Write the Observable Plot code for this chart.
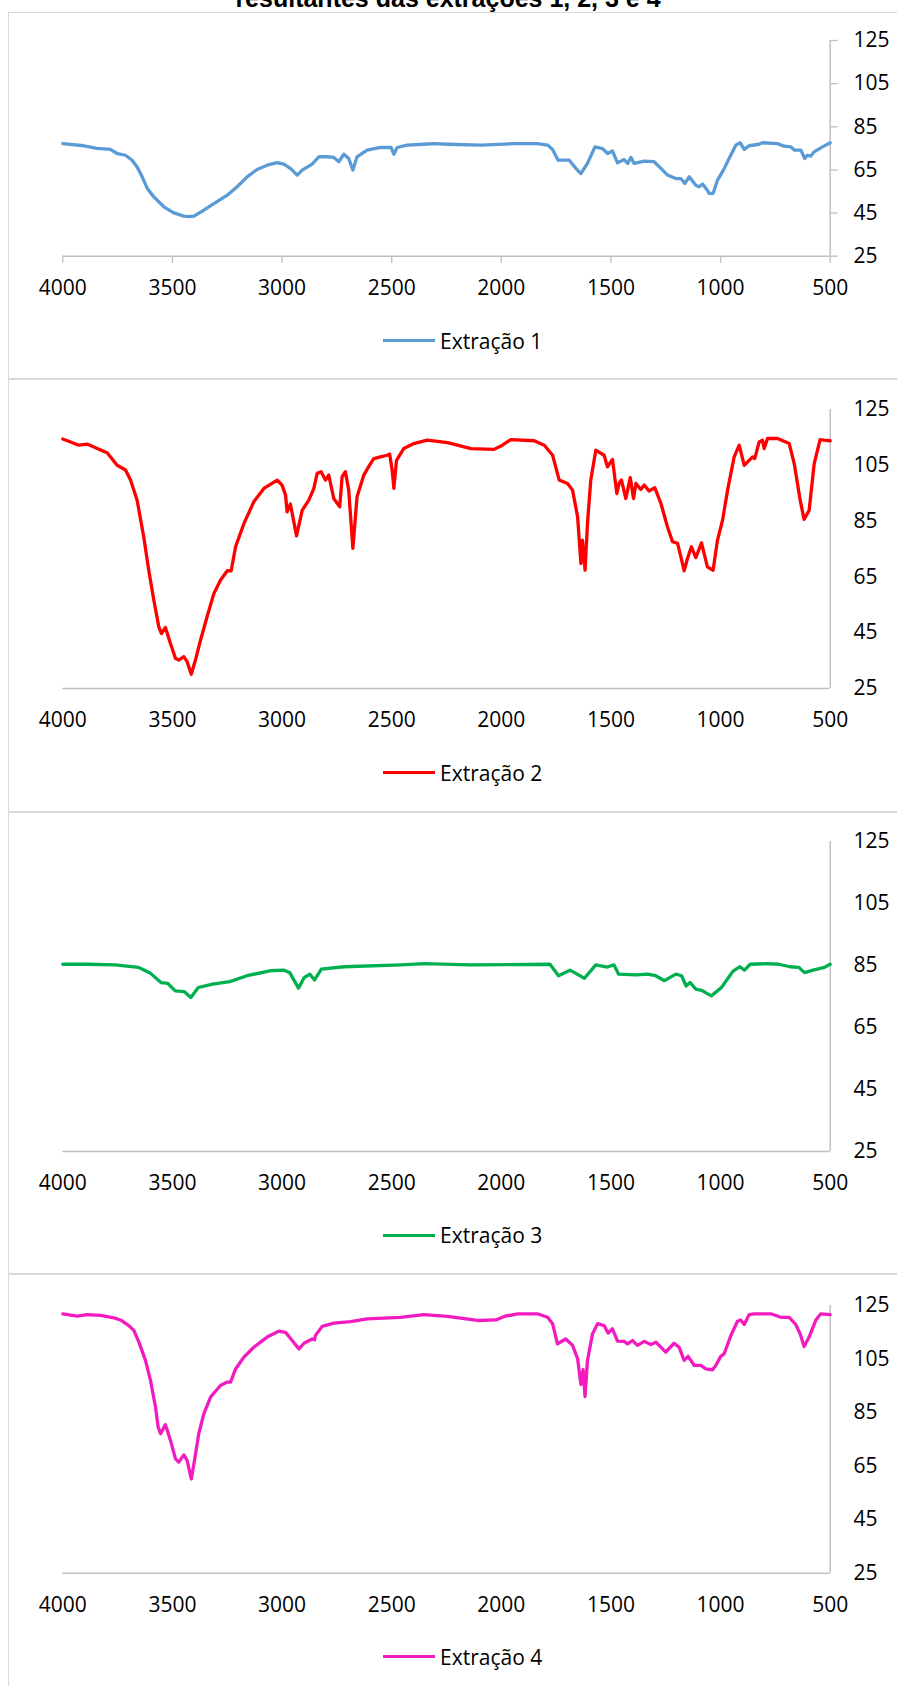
<!DOCTYPE html>
<html>
<head>
<meta charset="utf-8">
<script src="https://cdn.jsdelivr.net/npm/d3@7"></script>
<script src="https://cdn.jsdelivr.net/npm/@observablehq/plot@0.6"></script>
<style>
  body { margin: 0; background: #fff; }
  #page { position: relative; width: 897px; height: 1686px; overflow: hidden; background: #fff; font-family: "Open Sans", sans-serif; }
  .frame { position: absolute; left: 8px; width: 900px; border: 1.5px solid #d9d9d9; box-sizing: border-box; }
  .title { position: absolute; left: 0; width: 896px; top: -14px; text-align: center; font-family: "Liberation Sans", Arial, sans-serif; font-weight: bold; font-size: 25px; line-height: 25px; color: #000; white-space: nowrap; }
  .plot { position: absolute; left: 0; }
  .legend { position: absolute; left: 383px; height: 30px; display: flex; align-items: center; font-size: 21px; color: #000; white-space: nowrap; }
  .legend .sw { width: 52px; height: 3px; margin-right: 5px; }
</style>
</head>
<body>
<div id="page"></div>
<script>
// ---------- data ----------
const titleText = "resultantes das extrações 1, 2, 3 e 4";
const seriesNames = ["Extração 1", "Extração 2", "Extração 3", "Extração 4"];
const seriesColors = ["#5b9bd5", "#ff0000", "#00b050", "#f21bbf"];
const xTicks = [4000, 3500, 3000, 2500, 2000, 1500, 1000, 500];
const yTicks = [25, 45, 65, 85, 105, 125];

const ext1Wn = [4000,3904,3843,3783,3752,3714,3684,3661,3638,3615,3585,3539,3494,3448,3425,3402,3357,3311,3250,3205,3159,3114,3068,3022,2992,2962,2931,2908,2863,2832,2794,2764,2741,2718,2696,2677,2658,2612,2551,2503,2490,2475,2430,2354,2308,2245,2093,1941,1835,1789,1766,1741,1690,1660,1637,1607,1573,1538,1515,1493,1470,1440,1424,1409,1394,1348,1303,1272,1242,1204,1181,1163,1143,1113,1098,1082,1060,1052,1034,1014,987,961,930,911,892,870,824,809,740,710,680,664,634,616,604,588,573,535,500];
const ext1T  = [77.2,76.2,75.0,74.5,72.6,71.8,69.5,66.4,61.8,56.4,52.5,47.9,45.1,43.6,43.3,43.6,46.3,49.4,53.3,57.2,61.8,65.2,67.2,68.4,67.7,65.7,62.6,64.9,67.7,71.1,71.1,70.8,68.8,72.3,70.3,64.9,71.1,74.2,75.4,75.4,72.3,75.4,76.5,76.9,77.2,76.9,76.5,77.2,77.2,76.5,74.5,69.5,69.5,65.7,63.3,68.0,75.7,74.9,72.6,73.8,68.3,69.8,68.0,70.8,68.0,69.1,68.8,65.7,62.6,61.0,61.0,58.7,61.8,57.9,57.2,58.4,55.6,54.1,54.1,60.3,64.9,70.3,76.5,77.6,74.5,76.2,76.9,77.6,77.2,76.0,75.7,74.2,74.2,70.3,71.8,71.4,73.4,75.7,77.6];

const ext2Wn = [4000,3927,3889,3843,3798,3752,3714,3691,3661,3631,3608,3585,3562,3550,3532,3509,3486,3471,3448,3433,3414,3395,3372,3342,3311,3281,3250,3232,3212,3174,3129,3083,3022,3000,2984,2977,2962,2934,2908,2878,2855,2840,2822,2802,2787,2764,2737,2726,2711,2696,2677,2658,2627,2605,2582,2551,2521,2509,2498,2490,2478,2445,2399,2338,2245,2139,2033,1995,1957,1850,1804,1766,1736,1698,1675,1652,1637,1630,1618,1607,1592,1569,1531,1516,1493,1473,1462,1452,1432,1412,1397,1386,1364,1348,1326,1300,1272,1242,1219,1196,1181,1166,1151,1133,1113,1087,1060,1034,1014,991,968,938,915,892,854,844,824,809,801,786,740,687,664,637,619,596,573,546,528,500];
const ext2T  = [114.4,112.2,112.6,111.0,109.5,105.0,103.3,99.7,92.5,79.4,67.4,56.7,47.1,44.7,46.9,41.1,35.8,35.2,36.4,34.6,30.1,35.2,42.3,50.7,59.0,63.8,67.2,67.2,75.8,84.1,91.9,96.7,99.7,97.9,94.3,88.3,91.1,79.7,88.9,92.5,96.7,102.1,102.7,99.7,101.5,93.1,90.1,100.9,102.7,96.1,75.2,93.7,101.5,104.5,107.4,108.0,108.6,109.0,103.3,96.7,106.8,111.0,112.8,114.0,113.1,111.0,110.7,112.2,114.2,113.8,112.2,108.6,99.7,98.5,96.1,86.5,69.8,78.2,67.4,84.1,99.7,110.4,108.6,104.5,107.1,94.9,98.7,99.7,93.1,100.6,93.1,98.5,96.3,97.9,95.8,97.0,91.3,82.9,77.6,77.0,72.2,67.2,71.6,75.8,71.9,77.2,68.6,67.4,78.2,85.3,96.1,108.0,112.2,105.0,108.0,107.4,113.4,114.0,111.0,114.6,114.6,112.8,105.6,92.5,85.6,88.9,105.6,114.2,114.0,113.8];

const ext3Wn = [4000,3890,3760,3656,3604,3552,3521,3487,3447,3416,3382,3317,3238,3160,3056,2991,2965,2925,2899,2873,2852,2821,2717,2456,2352,2143,1778,1739,1687,1621,1569,1517,1486,1465,1387,1334,1296,1256,1204,1178,1157,1139,1113,1087,1042,996,944,912,891,865,787,735,683,643,617,578,526,500];
const ext3T  = [85.4,85.4,85.2,84.4,82.7,79.5,79.2,76.8,76.6,74.7,77.9,79.0,79.8,81.7,83.3,83.5,82.7,77.7,81.1,82.2,80.3,83.8,84.6,85.2,85.6,85.2,85.4,81.7,83.5,80.9,85.2,84.5,85.2,82.2,82.0,82.2,81.7,80.1,82.2,81.7,78.4,79.5,77.4,77.0,75.2,77.9,83.1,84.6,83.5,85.4,85.6,85.4,84.6,84.4,82.7,83.5,84.4,85.4];

const ext4Wn = [4000,3935,3889,3828,3767,3737,3699,3676,3653,3623,3600,3577,3565,3554,3532,3509,3486,3471,3448,3433,3414,3402,3380,3357,3326,3281,3250,3235,3212,3174,3129,3068,3015,2984,2954,2923,2900,2863,2852,2848,2817,2764,2688,2612,2460,2354,2245,2109,2025,1987,1926,1835,1789,1766,1744,1706,1675,1652,1637,1627,1618,1607,1584,1561,1531,1513,1493,1470,1440,1424,1402,1379,1348,1318,1295,1250,1212,1189,1166,1148,1120,1090,1067,1037,1022,999,984,953,923,908,892,870,847,771,725,687,657,637,619,596,565,543,500];
const ext4T  = [121.9,121.0,121.6,121.3,120.4,119.6,117.5,115.7,111.3,104.5,97.0,87.0,79.5,77.1,80.5,74.6,67.7,66.5,69.2,67.1,60.2,65.8,77.1,84.5,90.8,95.1,96.4,96.4,101.3,105.7,109.4,113.2,115.4,115.0,111.9,108.8,110.9,112.5,112.2,113.8,117.2,118.4,119.0,120.0,120.6,121.6,120.9,119.4,119.6,120.9,121.9,121.9,120.6,118.2,110.7,112.5,110.1,105.1,95.5,101.0,91.0,104.5,114.4,118.2,117.5,114.7,116.3,111.7,111.6,110.7,111.9,110.1,111.6,110.4,111.3,107.6,110.9,109.4,104.5,106.0,102.6,102.6,101.3,101.0,102.6,106.0,106.9,113.8,119.1,119.6,117.9,121.6,121.9,121.9,120.6,120.6,117.9,114.4,109.7,113.2,119.6,121.9,121.6];

const seriesWn = [ext1Wn, ext2Wn, ext3Wn, ext4Wn];
const seriesT = [ext1T, ext2T, ext3T, ext4T];

// ---------- layout ----------
const W = 897;
const frames = [[12, 379], [379, 812], [812, 1274], [1274, 1700]];
const panels = [
  { y125: 40.3,  y25: 256.0,  ticks: true,  legendY: 340.7 },
  { y125: 409.3, y25: 688.3,  ticks: false, legendY: 772.7 },
  { y125: 840.7, y25: 1150.7, ticks: false, legendY: 1235.0 },
  { y125: 1305.0, y25: 1572.7, ticks: false, legendY: 1656.7 }
];
const mL = 62.3, mR = W - 829.7, mT = 30, mB = 50;

const page = document.getElementById("page");

frames.forEach(([t, b]) => {
  const f = document.createElement("div");
  f.className = "frame";
  f.style.top = t + "px";
  f.style.height = (b - t) + "px";
  page.appendChild(f);
});

const title = document.createElement("div");
title.className = "title";
title.textContent = titleText;
page.appendChild(title);

panels.forEach((p, i) => {
  const data = seriesWn[i].map((w, k) => ({ wn: w, t: seriesT[i][k] }));
  const innerH = p.y25 - p.y125;
  const tickSize = p.ticks ? 7 : 0;
  const chart = Plot.plot({
    width: W,
    height: mT + innerH + mB,
    marginLeft: mL,
    marginRight: mR,
    marginTop: mT,
    marginBottom: mB,
    x: { domain: [4000, 500], label: null },
    y: { domain: [25, 125], label: null },
    style: { fontSize: "21px", fontFamily: "'Open Sans', sans-serif", color: "#000", background: "transparent", overflow: "visible" },
    marks: [
      Plot.axisX({ ticks: xTicks, tickFormat: d => String(d), tickSize: tickSize, tickPadding: 24 - tickSize, stroke: "#bfbfbf", strokeWidth: 1.3, label: null, fontSize: 21 }),
      Plot.axisY({ anchor: "right", ticks: yTicks, tickFormat: d => String(d), tickSize: tickSize, tickPadding: 23.3 - tickSize, stroke: "#bfbfbf", strokeWidth: 1.3, label: null, fontSize: 21 }),
      Plot.ruleY([25], { x1: 4000, x2: 500, stroke: "#bfbfbf", strokeWidth: 1.5 }),
      Plot.ruleX([500], { y1: 25, y2: 125, stroke: "#bfbfbf", strokeWidth: 1.5 }),
      Plot.line(data, { x: "wn", y: "t", stroke: seriesColors[i], strokeWidth: 3.3, strokeLinejoin: "round", strokeLinecap: "round" })
    ]
  });
  chart.classList.add("plot");
  chart.style.position = "absolute";
  chart.style.left = "0px";
  chart.style.top = (p.y125 - mT) + "px";
  page.appendChild(chart);

  const lg = document.createElement("div");
  lg.className = "legend";
  lg.style.top = (p.legendY - 15) + "px";
  const sw = document.createElement("div");
  sw.className = "sw";
  sw.style.background = seriesColors[i];
  const tx = document.createElement("span");
  tx.textContent = seriesNames[i];
  lg.appendChild(sw);
  lg.appendChild(tx);
  page.appendChild(lg);
});
</script>
</body>
</html>
